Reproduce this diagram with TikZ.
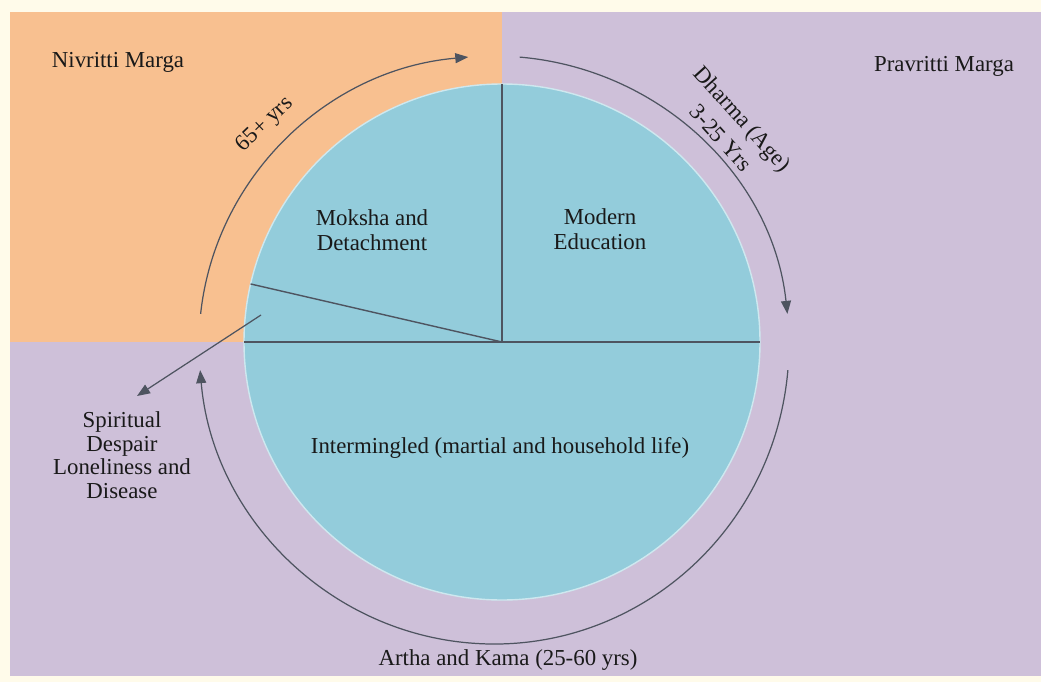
\documentclass[tikz,border=0pt]{standalone}
\usepackage{fontspec}
\setmainfont{Liberation Serif}
\usetikzlibrary{arrows.meta}
\definecolor{cream}{RGB}{255,251,234}
\definecolor{nivritti}{RGB}{248,192,144}
\definecolor{pravritti}{RGB}{206,192,217}
\definecolor{ashrama}{RGB}{147,204,219}
\definecolor{ink}{RGB}{78,84,96}
\tikzset{
  stage/.style={font=\fontsize{13}{14.5}\selectfont, align=center, text=black!90},
  lifearc/.style={draw=ink, line width=0.7pt},
  lifetip/.style={-{Triangle[length=0.26cm,width=0.2cm]}}
}
\begin{document}
\begin{tikzpicture}
  \useasboundingbox (0.0,0.0) rectangle (20.82,13.64) ;
  \fill[cream] (0.0,0.0) rectangle (20.82,13.64) ;
  \fill[pravritti] (0.2,0.12) rectangle (20.82,13.4) ;
  \fill[nivritti] (0.2,6.8) rectangle (10.04,13.4) ;

  \coordinate (centre) at (10.04,6.8) ;
  \coordinate (hub) at (9.88,6.76) ;
  \filldraw[fill=ashrama, draw=white!55!ashrama, line width=0.8pt] (centre) circle (5.16) ;
  \draw[ink, line width=0.8pt] (centre) ++(180:5.16) -- ++(0:10.32) ;
  \draw[ink, line width=0.8pt] (centre) -- ++(90:5.16) ;
  \draw[ink, line width=0.8pt] (centre) -- ++(167:5.16) ;

  % life cycle arcs
  \draw[lifearc, lifetip] ([shift={(174:5.9 and 5.76)}]hub) arc[start angle=174, end angle=95, x radius=5.9, y radius=5.76] ;
  \draw[lifearc, lifetip] ([shift={(85:5.9 and 5.76)}]hub) arc[start angle=85, end angle=6, x radius=5.9, y radius=5.76] ;
  \draw[lifearc, lifetip] ([shift={(-5:5.9 and 6.0)}]hub) arc[start angle=-5, end angle=-175, x radius=5.9, y radius=6.0] ;

  \node[stage] (nivritti) at (2.36,12.40) {Nivritti Marga} ;
  \node[stage] (pravritti) at (18.88,12.32) {Pravritti Marga} ;
  \node[stage] (moksha) at (7.44,9.04) {Moksha and\\Detachment} ;
  \node[stage] (education) at (12.0,9.06) {Modern\\Education} ;
  \node[stage] (household) at (10.0,4.68) {Intermingled (martial and household life)} ;
  \node[stage, font=\fontsize{13}{13.4}\selectfont] (despair) at (2.44,4.54) {Spiritual\\Despair\\Loneliness and\\Disease} ;
  \node[stage] (artha) at (10.16,0.44) {Artha and Kama (25-60 yrs)} ;
  \node[stage, rotate=44] (sannyasa) at (5.3,11.14) {65+ yrs} ;
  \node[stage, rotate=-48, font=\fontsize{13}{16.5}\selectfont] (dharma) at (14.64,11.08) {Dharma (Age)\\3-25 Yrs} ;

  \coordinate (wedge) at (5.22,7.34) ;
  \coordinate (despairtip) at (2.74,5.72) ;
  \draw[lifearc, lifetip] (wedge) -- (despairtip) ;
\end{tikzpicture}
\end{document}
